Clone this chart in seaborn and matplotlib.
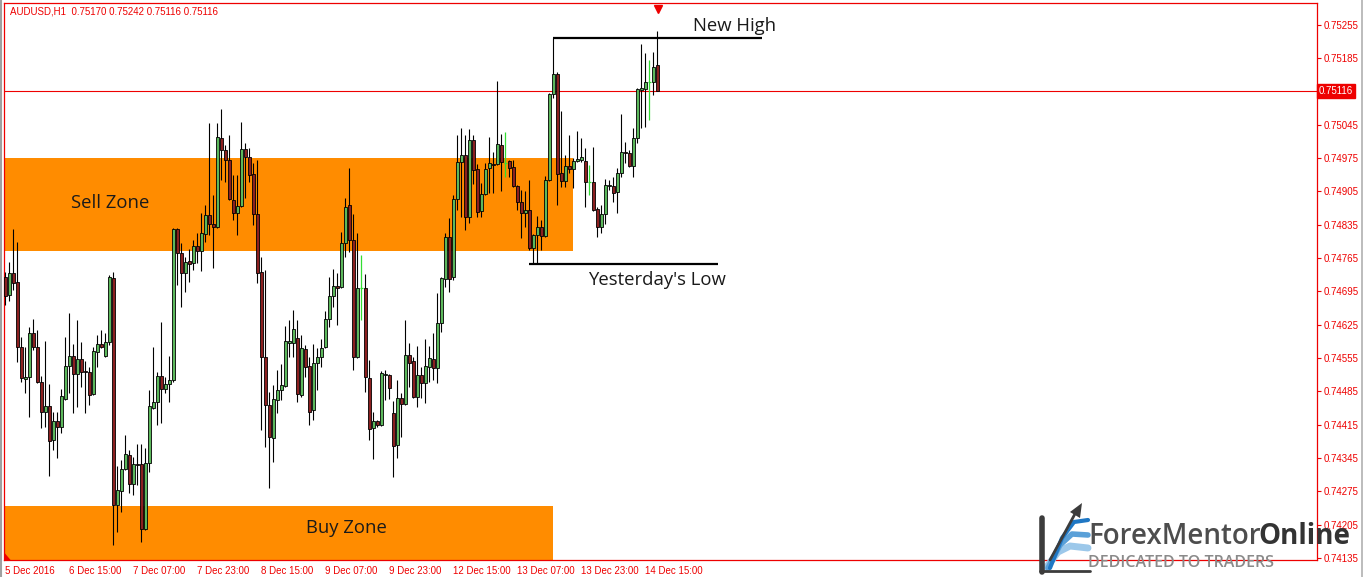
import numpy as np
import pandas as pd
import matplotlib.pyplot as plt
import seaborn as sns
from matplotlib.patches import Rectangle, Polygon
from matplotlib.lines import Line2D
from matplotlib.transforms import blended_transform_factory

sns.set_style("white")
plt.rcParams['font.family'] = ['Liberation Sans', 'DejaVu Sans']

# AUDUSD H1 bars
chart_title = "AUDUSD,H1  0.75170 0.75242 0.75116 0.75116"

opens = [0.74725, 0.74688, 0.74734, 0.74715, 0.74578, 0.74511, 0.74515, 0.74608, 0.74578, 0.74505,
         0.74442, 0.74454, 0.74383, 0.74423, 0.74410, 0.74469, 0.74538, 0.74559, 0.74522, 0.74553,
         0.74528, 0.74526, 0.74480, 0.74568, 0.74585, 0.74559, 0.74589, 0.74723, 0.74247, 0.74276,
         0.74322, 0.74352, 0.74291, 0.74333, 0.74333, 0.74196, 0.74335, 0.74450, 0.74463, 0.74517,
         0.74490, 0.74501, 0.74509, 0.74826, 0.74776, 0.74734, 0.74759, 0.74755, 0.74790, 0.74780,
         0.74816, 0.74855, 0.74837, 0.74830, 0.75017, 0.74992, 0.74971, 0.74887, 0.74860, 0.74874,
         0.74994, 0.74977, 0.74942, 0.74858, 0.74736, 0.74557, 0.74457, 0.74387, 0.74467, 0.74488,
         0.74496, 0.74587, 0.74587, 0.74597, 0.74478, 0.74574, 0.74538, 0.74446, 0.74545, 0.74557,
         0.74578, 0.74637, 0.74685, 0.74706, 0.74704, 0.74797, 0.74876, 0.74803, 0.74557, 0.74702,
         0.74702, 0.74513, 0.74408, 0.74423, 0.74415, 0.74520, 0.74520, 0.74440, 0.74373, 0.74471,
         0.74459, 0.74562, 0.74549, 0.74473, 0.74520, 0.74503, 0.74536, 0.74553, 0.74534, 0.74629,
         0.74721, 0.74809, 0.74725, 0.74889, 0.74967, 0.74982, 0.74851, 0.75013, 0.74952, 0.74864,
         0.74900, 0.74954, 0.74963, 0.74963, 0.75002, 0.74965, 0.74969, 0.74956, 0.74916, 0.74883,
         0.74860, 0.74866, 0.74786, 0.74813, 0.74830, 0.74811, 0.74929, 0.75110, 0.75152, 0.74944,
         0.74927, 0.74958, 0.74952, 0.74969, 0.74971, 0.74969, 0.74925, 0.74925, 0.74868, 0.74830,
         0.74858, 0.74916, 0.74916, 0.74904, 0.74944, 0.74988, 0.74986, 0.74958, 0.75017, 0.75118,
         0.75120, 0.75135, 0.75135, 0.75170]

highs = [0.74736, 0.74757, 0.74826, 0.74799, 0.74599, 0.74578, 0.74620, 0.74637, 0.74614, 0.74517,
         0.74591, 0.74501, 0.74442, 0.74442, 0.74490, 0.74599, 0.74650, 0.74585, 0.74635, 0.74589,
         0.74549, 0.74536, 0.74578, 0.74604, 0.74614, 0.74608, 0.74730, 0.74736, 0.74328, 0.74341,
         0.74394, 0.74362, 0.74347, 0.74375, 0.74375, 0.74366, 0.74488, 0.74578, 0.74526, 0.74631,
         0.74515, 0.74559, 0.74828, 0.74828, 0.74797, 0.74767, 0.74784, 0.74803, 0.74818, 0.74860,
         0.74876, 0.75049, 0.74897, 0.75049, 0.75078, 0.75002, 0.75024, 0.74940, 0.74940, 0.75051,
         0.75007, 0.74996, 0.74965, 0.74971, 0.74767, 0.74740, 0.74484, 0.74499, 0.74530, 0.74543,
         0.74622, 0.74635, 0.74656, 0.74635, 0.74604, 0.74583, 0.74557, 0.74585, 0.74576, 0.74595,
         0.74654, 0.74725, 0.74742, 0.74734, 0.74820, 0.74891, 0.74954, 0.74858, 0.74818, 0.74772,
         0.74732, 0.74551, 0.74442, 0.74425, 0.74528, 0.74530, 0.74522, 0.74465, 0.74509, 0.74482,
         0.74635, 0.74587, 0.74557, 0.74580, 0.74536, 0.74595, 0.74580, 0.74608, 0.74692, 0.74725,
         0.74818, 0.74849, 0.74897, 0.75024, 0.75038, 0.75024, 0.75036, 0.75024, 0.74963, 0.74923,
         0.74965, 0.75019, 0.74988, 0.75137, 0.75026, 0.75030, 0.74971, 0.74971, 0.74919, 0.74908,
         0.74906, 0.74929, 0.74816, 0.74853, 0.74845, 0.74937, 0.75112, 0.75227, 0.75156, 0.75074,
         0.74982, 0.75024, 0.74975, 0.75032, 0.75017, 0.74996, 0.74961, 0.74998, 0.74872, 0.74876,
         0.74931, 0.74929, 0.74935, 0.74954, 0.75068, 0.75009, 0.74992, 0.75038, 0.75122, 0.75215,
         0.75196, 0.75181, 0.75198, 0.75242]

lows = [0.74667, 0.74675, 0.74698, 0.74547, 0.74505, 0.74482, 0.74431, 0.74572, 0.74503, 0.74408,
        0.74410, 0.74307, 0.74362, 0.74345, 0.74398, 0.74467, 0.74482, 0.74440, 0.74452, 0.74494,
        0.74440, 0.74457, 0.74478, 0.74536, 0.74576, 0.74557, 0.74583, 0.74163, 0.74190, 0.74232,
        0.74320, 0.74272, 0.74268, 0.74289, 0.74169, 0.74194, 0.74316, 0.74448, 0.74415, 0.74419,
        0.74482, 0.74463, 0.74505, 0.74709, 0.74662, 0.74694, 0.74715, 0.74740, 0.74755, 0.74738,
        0.74799, 0.74813, 0.74744, 0.74828, 0.74929, 0.74925, 0.74887, 0.74845, 0.74813, 0.74872,
        0.74891, 0.74925, 0.74835, 0.74713, 0.74404, 0.74368, 0.74282, 0.74337, 0.74440, 0.74467,
        0.74494, 0.74557, 0.74557, 0.74463, 0.74473, 0.74515, 0.74415, 0.74425, 0.74488, 0.74536,
        0.74576, 0.74620, 0.74662, 0.74625, 0.74702, 0.74767, 0.74778, 0.74530, 0.74555, 0.74635,
        0.74484, 0.74383, 0.74343, 0.74410, 0.74412, 0.74467, 0.74469, 0.74305, 0.74345, 0.74389,
        0.74457, 0.74494, 0.74471, 0.74452, 0.74471, 0.74461, 0.74505, 0.74509, 0.74503, 0.74610,
        0.74704, 0.74694, 0.74719, 0.74866, 0.74851, 0.74824, 0.74839, 0.74921, 0.74851, 0.74851,
        0.74897, 0.74902, 0.74902, 0.74961, 0.74906, 0.74935, 0.74935, 0.74914, 0.74866, 0.74807,
        0.74830, 0.74782, 0.74753, 0.74755, 0.74782, 0.74809, 0.74927, 0.75101, 0.74876, 0.74914,
        0.74914, 0.74944, 0.74912, 0.74967, 0.74967, 0.74872, 0.74897, 0.74864, 0.74809, 0.74818,
        0.74837, 0.74908, 0.74883, 0.74860, 0.74935, 0.74965, 0.74956, 0.74935, 0.75007, 0.75038,
        0.75040, 0.75055, 0.75108, 0.75116]

closes = [0.74685, 0.74734, 0.74713, 0.74578, 0.74513, 0.74515, 0.74608, 0.74578, 0.74505, 0.74442,
          0.74454, 0.74381, 0.74423, 0.74410, 0.74475, 0.74538, 0.74559, 0.74522, 0.74553, 0.74526,
          0.74526, 0.74478, 0.74570, 0.74585, 0.74578, 0.74589, 0.74725, 0.74247, 0.74278, 0.74322,
          0.74354, 0.74291, 0.74333, 0.74331, 0.74196, 0.74335, 0.74454, 0.74463, 0.74517, 0.74490,
          0.74501, 0.74509, 0.74826, 0.74776, 0.74734, 0.74757, 0.74753, 0.74790, 0.74780, 0.74818,
          0.74855, 0.74837, 0.74830, 0.75019, 0.74992, 0.74971, 0.74889, 0.74860, 0.74874, 0.74994,
          0.74977, 0.74940, 0.74858, 0.74734, 0.74557, 0.74457, 0.74389, 0.74469, 0.74488, 0.74499,
          0.74591, 0.74591, 0.74616, 0.74480, 0.74576, 0.74536, 0.74442, 0.74545, 0.74557, 0.74576,
          0.74637, 0.74685, 0.74706, 0.74702, 0.74797, 0.74872, 0.74803, 0.74557, 0.74702, 0.74702,
          0.74515, 0.74406, 0.74423, 0.74415, 0.74524, 0.74522, 0.74492, 0.74370, 0.74471, 0.74459,
          0.74562, 0.74545, 0.74473, 0.74520, 0.74503, 0.74538, 0.74555, 0.74534, 0.74629, 0.74723,
          0.74809, 0.74721, 0.74889, 0.74967, 0.74982, 0.74851, 0.75013, 0.74950, 0.74862, 0.74900,
          0.74952, 0.74965, 0.74961, 0.75005, 0.74967, 0.74965, 0.74954, 0.74916, 0.74883, 0.74860,
          0.74866, 0.74786, 0.74813, 0.74830, 0.74811, 0.74929, 0.75110, 0.75152, 0.74942, 0.74927,
          0.74958, 0.74952, 0.74969, 0.74973, 0.74977, 0.74925, 0.74925, 0.74866, 0.74830, 0.74858,
          0.74919, 0.74919, 0.74902, 0.74944, 0.74988, 0.74986, 0.74958, 0.75017, 0.75120, 0.75122,
          0.75135, 0.75135, 0.75166, 0.75116]

date_tick_bars = [0, 16, 32, 48, 64, 80, 96, 112, 128, 144, 160]
date_labels = ["5 Dec 2016", "6 Dec 15:00", "7 Dec 07:00", "7 Dec 23:00", "8 Dec 15:00",
               "9 Dec 07:00", "9 Dec 23:00", "12 Dec 15:00", "13 Dec 07:00", "13 Dec 23:00",
               "14 Dec 15:00"]
price_ticks = [0.75255, 0.75185, 0.75045, 0.74975, 0.74905, 0.74835, 0.74765, 0.74695,
               0.74625, 0.74555, 0.74485, 0.74415, 0.74345, 0.74275, 0.74205, 0.74135]
last_price = 0.75116

# zones (price range, bar where the box ends)
sell_zone = (0.74780, 0.74975)
sell_zone_end = 141.9
buy_zone = (0.74100, 0.74245)
buy_zone_end = 136.8

# drawn lines
new_high_bar, new_high_end = 137, 189.2
yest_low_bar, yest_low_start, yest_low_end = 132, 131, 178.2

RED = '#ee0000'
ORANGE = '#ff8c00'
BULL = '#5cb85c'
BEAR = '#8b2020'
DOJI = '#33dd33'

df = pd.DataFrame({'open': opens, 'high': highs, 'low': lows, 'close': closes})
df['bar'] = np.arange(len(df))
flat = (df.close - df.open).abs() < 1e-7
up = (df.close > df.open) & ~flat
down = (df.close < df.open) & ~flat

fig = plt.figure(figsize=(13.64, 5.77), dpi=100)
ax = fig.add_axes([4 / 1364, 17 / 577, 1313 / 1364, 557 / 577])
ax.set_xlim(-0.33, 327.9)
ax.set_ylim(0.74131, 0.753007)

# zones
ax.add_patch(Rectangle((-2, sell_zone[0]), sell_zone_end + 2, sell_zone[1] - sell_zone[0],
                       facecolor=ORANGE, edgecolor='none', zorder=1))
ax.add_patch(Rectangle((-2, buy_zone[0]), buy_zone_end + 2, buy_zone[1] - buy_zone[0],
                       facecolor=ORANGE, edgecolor='none', zorder=1))

# last price line
ax.axhline(last_price, color=RED, lw=0.8, zorder=2)

# candles
ax.vlines(df.bar[~flat], df.low[~flat], df.high[~flat], color='black', lw=0.8, zorder=3)
ax.bar(df.bar[up], (df.close - df.open)[up], bottom=df.open[up], width=0.75,
       color=BULL, edgecolor='black', linewidth=0.6, zorder=4)
ax.bar(df.bar[down], (df.open - df.close)[down], bottom=df.close[down], width=0.75,
       color=BEAR, edgecolor='black', linewidth=0.6, zorder=4)
ax.vlines(df.bar[flat], df.low[flat], df.high[flat], color=DOJI, lw=0.9, zorder=3)
ax.hlines(df.open[flat], df.bar[flat] - 0.4, df.bar[flat] + 0.4, color=DOJI, lw=0.9, zorder=3)

# trader's lines and notes
ax.hlines(highs[new_high_bar], new_high_bar, new_high_end, color='black', lw=1.6, zorder=5)
ax.hlines(lows[yest_low_bar], yest_low_start, yest_low_end, color='black', lw=1.6, zorder=5)
note_font = dict(family=['Open Sans', 'DejaVu Sans'], fontsize=13.3, color='#1a1a1a',
                 ha='center', va='center', zorder=6)
ax.text(26.2, 0.74881, "Sell Zone", **note_font)
ax.text(85.2, 0.74198, "Buy Zone", **note_font)
ax.text(182.2, 0.75252, "New High", **note_font)
ax.text(162.9, 0.74719, "Yesterday's Low", **note_font)

# MT4 style frame and axes
for s in ax.spines.values():
    s.set_color(RED)
    s.set_linewidth(0.9)
ax.yaxis.tick_right()
ax.set_yticks(price_ticks)
ax.set_yticklabels([f"{p:.5f}" for p in price_ticks])
ax.set_xticks(date_tick_bars)
ax.set_xticklabels(date_labels, ha='left')
ax.tick_params(axis='both', colors=RED, labelcolor=RED, labelsize=7, length=3,
               width=0.8, direction='out')
ax.tick_params(axis='x', pad=1.5)
ax.tick_params(axis='y', pad=2)
ax.grid(False)

ax.text(0.0046, 0.994, chart_title, transform=ax.transAxes, color=RED, fontsize=7,
        ha='left', va='top', zorder=7)

trans = blended_transform_factory(ax.transAxes, ax.transData)
ax.text(1.0015, last_price, f"{last_price:.5f}", transform=trans, color='white',
        fontsize=7, ha='left', va='center', zorder=8, clip_on=False,
        bbox=dict(boxstyle='square,pad=0.2', facecolor=RED, edgecolor=RED))

ax.plot([163.2], [0.99], transform=blended_transform_factory(ax.transData, ax.transAxes),
        marker='v', ms=6, color=RED, clip_on=False, zorder=8)
ax.add_patch(Polygon([[0.0, 0.0], [0.0, 0.014], [0.005, 0.0]], closed=True,
                     transform=ax.transAxes, facecolor=RED, edgecolor='none',
                     clip_on=False, zorder=8))

# window edges
fig.add_artist(Line2D([0.0008, 0.0008], [0, 1], color='#a0a0a0', lw=1.5))
fig.add_artist(Line2D([0.9985, 0.9985], [0, 1], color='#b0b0b0', lw=1.2))


# watermark logo
def fx(px):
    return px / 1364


def fy(py):
    return 1 - py / 577


for xs, ys, c, w in [
    ([1046, 1058, 1070, 1088], [568, 552, 546, 548], '#9cc8ea', 5),
    ([1048, 1060, 1072, 1088], [568, 545, 534, 535], '#5aa0d8', 4),
    ([1050, 1062, 1074, 1088], [568, 538, 522, 520], '#1f77c4', 3),
]:
    fig.add_artist(Line2D([fx(x) for x in xs], [fy(y) for y in ys], color=c, lw=w,
                          solid_capstyle='round', zorder=9))
fig.add_artist(Line2D([fx(1042), fx(1042)], [fy(518), fy(572)], color='#3c3c3c', lw=4, zorder=9))
fig.add_artist(Line2D([fx(1040), fx(1090)], [fy(571), fy(571)], color='#3c3c3c', lw=2, zorder=9))
fig.add_artist(Line2D([fx(1050), fx(1076)], [fy(560), fy(512)], color='#3c3c3c', lw=2, zorder=9))
fig.add_artist(Polygon([[fx(1070), fy(512)], [fx(1082), fy(503)], [fx(1080), fy(518)]],
                       closed=True, facecolor='#3c3c3c', edgecolor='none', zorder=9))

brand = fig.text(fx(1088), fy(536), "ForexMentor", family=['Open Sans', 'DejaVu Sans'],
                 fontsize=20, fontweight='semibold', color='#4d4d4d', ha='left', va='center',
                 zorder=10)
fig.canvas.draw()
ax.annotate("Online", xy=(1, 0.5), xycoords=brand, xytext=(-1.5, 0), textcoords='offset points',
            family=['Open Sans', 'DejaVu Sans'], fontsize=20, fontweight='bold',
            color='#333333', ha='left', va='center', annotation_clip=False, zorder=10)
fig.text(fx(1088), fy(563), "DEDICATED TO TRADERS", family=['Open Sans', 'DejaVu Sans'],
         fontsize=11.5, fontweight='semibold', color='#8a8a8a', ha='left', va='center', zorder=10)

plt.savefig("out.png", dpi=100)
